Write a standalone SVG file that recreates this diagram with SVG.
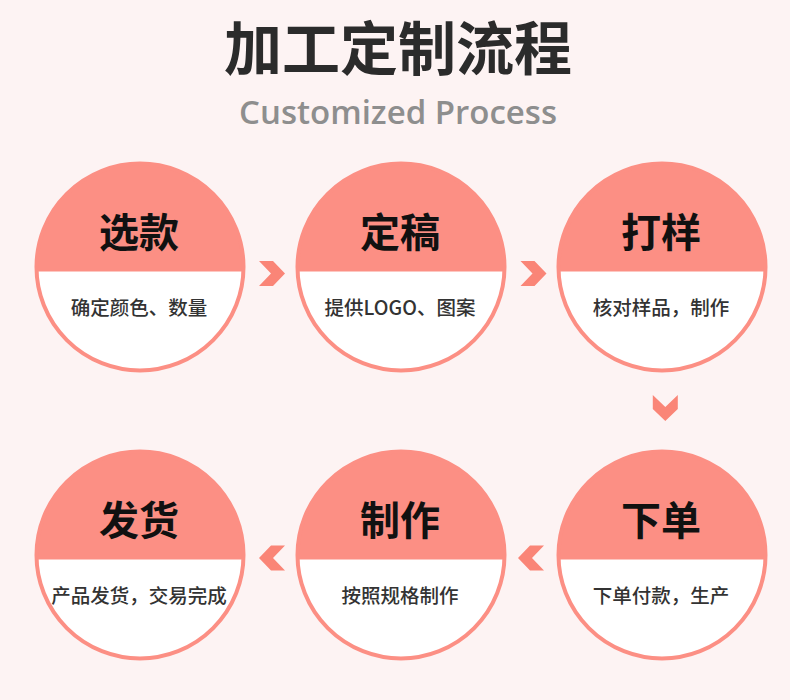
<svg xmlns="http://www.w3.org/2000/svg" xmlns:xlink="http://www.w3.org/1999/xlink" width="790" height="700" viewBox="0 0 790 700">
  <style>
    .title { font-family: "Noto Sans CJK SC", "Noto Sans", sans-serif; font-weight: 700; font-size: 58px; fill: #2b2b2b; text-anchor: middle; }
    .sub { font-family: "Open Sans", "Noto Sans", sans-serif; font-weight: 600; font-size: 33px; fill: #8e8e8e; text-anchor: middle; }
    .nt { font-family: "Noto Sans CJK SC", sans-serif; font-weight: 700; font-size: 40px; fill: #111; text-anchor: middle; }
    .ns { font-family: "Noto Sans CJK SC", sans-serif; font-weight: 500; font-size: 19.5px; fill: #333; text-anchor: middle; }
    .chev { fill: #fa8577; }
  </style>
  <defs>
    <g id="disc">
      <circle r="103.5" fill="#ffffff"/>
      <path d="M -103.4,4.5 A 103.5 103.5 0 1 1 103.4,4.5 Z" fill="#fc8f84"/>
      <circle r="103.5" fill="none" stroke="#fc8f84" stroke-width="4"/>
    </g>
    <polygon id="chev-r" points="-13,-12.5 1,-12.5 13,0 1,12.5 -13,12.5 -1,0"/>
  </defs>

  <rect width="790" height="700" fill="#fdf3f3"/>

  <text class="title" x="398" y="70">加工定制流程</text>
  <text class="sub" x="398" y="124">Customized Process</text>

  <g id="node-1">
    <use href="#disc" transform="translate(140,267)"/>
    <text class="nt" x="139" y="247">选款</text>
    <text class="ns" x="139" y="315">确定颜色、数量</text>
  </g>
  <g id="node-2">
    <use href="#disc" transform="translate(401,267)"/>
    <text class="nt" x="400" y="247">定稿</text>
    <text class="ns" x="400" y="315">提供LOGO、图案</text>
  </g>
  <g id="node-3">
    <use href="#disc" transform="translate(662,267)"/>
    <text class="nt" x="661" y="247">打样</text>
    <text class="ns" x="661" y="315">核对样品，制作</text>
  </g>
  <g id="node-4">
    <use href="#disc" transform="translate(662,555)"/>
    <text class="nt" x="661" y="535">下单</text>
    <text class="ns" x="661" y="603">下单付款，生产</text>
  </g>
  <g id="node-5">
    <use href="#disc" transform="translate(401,555)"/>
    <text class="nt" x="400" y="535">制作</text>
    <text class="ns" x="400" y="603">按照规格制作</text>
  </g>
  <g id="node-6">
    <use href="#disc" transform="translate(140,555)"/>
    <text class="nt" x="139" y="535">发货</text>
    <text class="ns" x="139" y="603">产品发货，交易完成</text>
  </g>

  <g id="connectors" class="chev">
    <use href="#chev-r" transform="translate(272,273.5)"/>
    <use href="#chev-r" transform="translate(533.5,273.5)"/>
    <use href="#chev-r" transform="translate(665.3,408) rotate(90)"/>
    <use href="#chev-r" transform="translate(531,558) rotate(180)"/>
    <use href="#chev-r" transform="translate(272,558) rotate(180)"/>
  </g>
</svg>
